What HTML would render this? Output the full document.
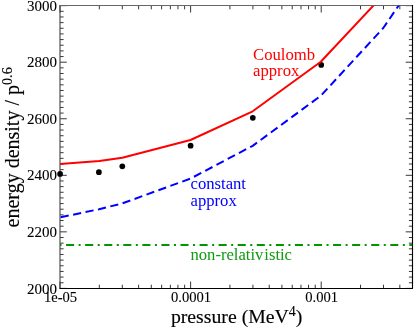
<!DOCTYPE html><html><head><meta charset="utf-8"><style>html,body{margin:0;padding:0;background:#fff}svg{display:block;will-change:transform}text{font-family:"Liberation Serif",serif}</style></head><body>
<svg width="415" height="329" viewBox="0 0 415 329">
<rect width="415" height="329" fill="#fff"/>
<defs><clipPath id="c"><rect x="60.00" y="5.65" width="352.50" height="282.75"/></clipPath></defs>
<path d="M60.00 288.40h6.80M412.50 288.40h-6.80M60.00 282.75h3.60M412.50 282.75h-3.60M60.00 277.09h3.60M412.50 277.09h-3.60M60.00 271.44h3.60M412.50 271.44h-3.60M60.00 265.78h3.60M412.50 265.78h-3.60M60.00 260.12h3.60M412.50 260.12h-3.60M60.00 254.47h3.60M412.50 254.47h-3.60M60.00 248.81h3.60M412.50 248.81h-3.60M60.00 243.16h3.60M412.50 243.16h-3.60M60.00 237.50h3.60M412.50 237.50h-3.60M60.00 231.85h6.80M412.50 231.85h-6.80M60.00 226.19h3.60M412.50 226.19h-3.60M60.00 220.54h3.60M412.50 220.54h-3.60M60.00 214.89h3.60M412.50 214.89h-3.60M60.00 209.23h3.60M412.50 209.23h-3.60M60.00 203.58h3.60M412.50 203.58h-3.60M60.00 197.92h3.60M412.50 197.92h-3.60M60.00 192.27h3.60M412.50 192.27h-3.60M60.00 186.61h3.60M412.50 186.61h-3.60M60.00 180.96h3.60M412.50 180.96h-3.60M60.00 175.30h6.80M412.50 175.30h-6.80M60.00 169.65h3.60M412.50 169.65h-3.60M60.00 163.99h3.60M412.50 163.99h-3.60M60.00 158.34h3.60M412.50 158.34h-3.60M60.00 152.68h3.60M412.50 152.68h-3.60M60.00 147.03h3.60M412.50 147.03h-3.60M60.00 141.37h3.60M412.50 141.37h-3.60M60.00 135.72h3.60M412.50 135.72h-3.60M60.00 130.06h3.60M412.50 130.06h-3.60M60.00 124.41h3.60M412.50 124.41h-3.60M60.00 118.75h6.80M412.50 118.75h-6.80M60.00 113.09h3.60M412.50 113.09h-3.60M60.00 107.44h3.60M412.50 107.44h-3.60M60.00 101.79h3.60M412.50 101.79h-3.60M60.00 96.13h3.60M412.50 96.13h-3.60M60.00 90.48h3.60M412.50 90.48h-3.60M60.00 84.82h3.60M412.50 84.82h-3.60M60.00 79.17h3.60M412.50 79.17h-3.60M60.00 73.51h3.60M412.50 73.51h-3.60M60.00 67.86h3.60M412.50 67.86h-3.60M60.00 62.20h6.80M412.50 62.20h-6.80M60.00 56.55h3.60M412.50 56.55h-3.60M60.00 50.89h3.60M412.50 50.89h-3.60M60.00 45.23h3.60M412.50 45.23h-3.60M60.00 39.58h3.60M412.50 39.58h-3.60M60.00 33.92h3.60M412.50 33.92h-3.60M60.00 28.27h3.60M412.50 28.27h-3.60M60.00 22.62h3.60M412.50 22.62h-3.60M60.00 16.96h3.60M412.50 16.96h-3.60M60.00 11.30h3.60M412.50 11.30h-3.60M60.00 5.65h6.80M412.50 5.65h-6.80M60.00 288.50v-7.00M60.00 5.55v7.00M99.32 288.50v-3.80M99.32 5.55v3.80M122.31 288.50v-3.80M122.31 5.55v3.80M138.63 288.50v-3.80M138.63 5.55v3.80M151.29 288.50v-3.80M151.29 5.55v3.80M161.63 288.50v-3.80M161.63 5.55v3.80M170.37 288.50v-3.80M170.37 5.55v3.80M177.95 288.50v-3.80M177.95 5.55v3.80M184.63 288.50v-3.80M184.63 5.55v3.80M190.61 288.50v-7.00M190.61 5.55v7.00M229.92 288.50v-3.80M229.92 5.55v3.80M252.92 288.50v-3.80M252.92 5.55v3.80M269.24 288.50v-3.80M269.24 5.55v3.80M281.89 288.50v-3.80M281.89 5.55v3.80M292.24 288.50v-3.80M292.24 5.55v3.80M300.98 288.50v-3.80M300.98 5.55v3.80M308.55 288.50v-3.80M308.55 5.55v3.80M315.23 288.50v-3.80M315.23 5.55v3.80M321.21 288.50v-7.00M321.21 5.55v7.00M360.53 288.50v-3.80M360.53 5.55v3.80M383.53 288.50v-3.80M383.53 5.55v3.80M399.84 288.50v-3.80M399.84 5.55v3.80M412.50 288.50v-3.80M412.50 5.55v3.80" stroke="#383838" stroke-width="1.0" fill="none"/>
<path d="M60.00 288.50V5.05" stroke="#4a4a4a" stroke-width="1.15" fill="none"/>
<path d="M59.45 5.55H412.50" stroke="#666" stroke-width="1.05" fill="none"/>
<path d="M59.50 288.50H412.50V5.05" stroke="#000" stroke-width="1.12" stroke-linejoin="round" fill="none"/>
<circle cx="60.10" cy="173.90" r="2.85" fill="#000"/>
<circle cx="98.90" cy="172.20" r="2.85" fill="#000"/>
<circle cx="122.30" cy="166.30" r="2.85" fill="#000"/>
<circle cx="190.60" cy="145.70" r="2.85" fill="#000"/>
<circle cx="252.80" cy="117.80" r="2.85" fill="#000"/>
<circle cx="321.20" cy="64.90" r="2.85" fill="#000"/>
<g clip-path="url(#c)">
<path d="M60.00 164.00 L99.30 161.00 L122.30 157.70 L190.50 140.00 L252.70 111.30 L320.80 61.80 L383.30 -5.00" stroke="#ff0000" stroke-width="2" fill="none" stroke-linejoin="round"/>
<path d="M60.00 217.40 L99.10 209.20 L122.30 203.40 L190.50 178.60 L252.70 145.80 L320.80 95.80 L383.30 28.00 L412.30 -14.50" stroke="#0000ff" stroke-width="2" fill="none" stroke-dasharray="8.2 4.5" stroke-dashoffset="12.0"/>
<path d="M60.00 244.9H412.50" stroke="#009600" stroke-width="2" fill="none" stroke-dasharray="8.06 4.5 2.01 4.5" stroke-dashoffset="13.0"/>
</g>
<text x="56.9" y="293.67" font-size="15" text-anchor="end" fill="#000" stroke="#000" stroke-width="0.1">2000</text>
<text x="56.9" y="237.08" font-size="15" text-anchor="end" fill="#000" stroke="#000" stroke-width="0.1">2200</text>
<text x="56.9" y="180.48" font-size="15" text-anchor="end" fill="#000" stroke="#000" stroke-width="0.1">2400</text>
<text x="56.9" y="123.89" font-size="15" text-anchor="end" fill="#000" stroke="#000" stroke-width="0.1">2600</text>
<text x="56.9" y="67.29" font-size="15" text-anchor="end" fill="#000" stroke="#000" stroke-width="0.1">2800</text>
<text x="56.9" y="10.70" font-size="15" text-anchor="end" fill="#000" stroke="#000" stroke-width="0.1">3000</text>
<text x="60.50" y="301.8" font-size="14.6" text-anchor="middle" fill="#000" stroke="#000" stroke-width="0.1">1e-05</text>
<text x="191.11" y="301.8" font-size="14.6" text-anchor="middle" fill="#000" stroke="#000" stroke-width="0.1">0.0001</text>
<text x="321.71" y="301.8" font-size="14.6" text-anchor="middle" fill="#000" stroke="#000" stroke-width="0.1">0.001</text>
<text x="170.9" y="323" font-size="19.75" fill="#000" stroke="#000" stroke-width="0.14">pressure (MeV<tspan font-size="13.9" dy="-6.6">4</tspan><tspan dy="6.6">)</tspan></text>
<text transform="translate(19.4 227.4) rotate(-90)" font-size="20" fill="#000" stroke="#000" stroke-width="0.14">energy density / p<tspan font-size="14.2" dy="-7.8">0.6</tspan></text>
<text x="253" y="60.1" font-size="16.7" fill="#ff0000">Coulomb</text>
<text x="253" y="76.4" font-size="16.7" fill="#ff0000">approx</text>
<text x="190.5" y="189.3" font-size="16.65" fill="#0000ff">constant</text>
<text x="190.5" y="206.3" font-size="16.65" fill="#0000ff">approx</text>
<text x="190.5" y="259.6" font-size="16.6" fill="#0f9a0f">non-relati<tspan dx="0.1">v</tspan><tspan dx="0.9">istic</tspan></text>
</svg></body></html>
